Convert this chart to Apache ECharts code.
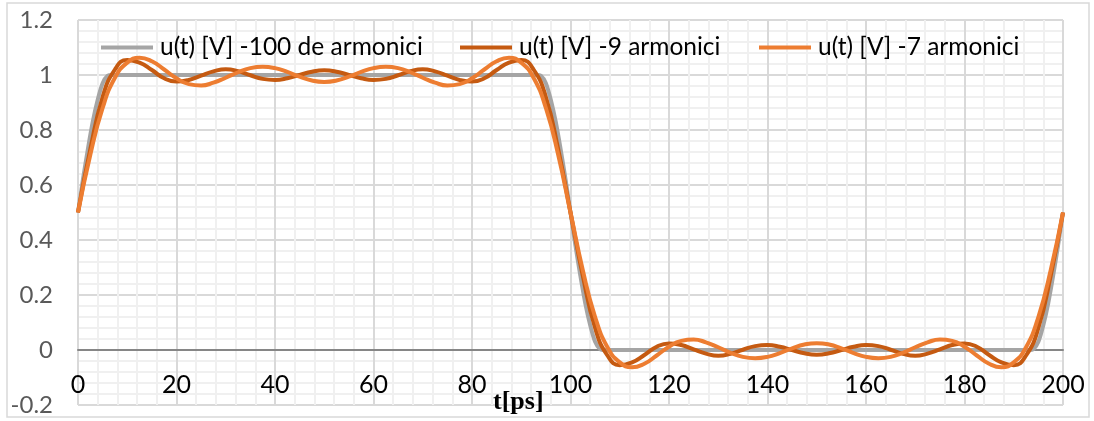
<!DOCTYPE html>
<html>
<head>
<meta charset="utf-8">
<script src="https://cdn.jsdelivr.net/npm/echarts@6/dist/echarts.min.js"></script>
<style>
  html, body { margin: 0; padding: 0; background: #fff; }
  #chart { width: 1094px; height: 421px; }
</style>
</head>
<body>
<div id="chart"></div>
<script>
// time samples [ps] for the 9 and 7 harmonic curves
var tPs = [0, 2.5, 5, 7.5, 10, 12.5, 15, 17.5, 20, 22.5, 25, 27.5, 30, 32.5, 35, 37.5, 40, 42.5, 45, 47.5,
  50, 52.5, 55, 57.5, 60, 62.5, 65, 67.5, 70, 72.5, 75, 77.5, 80, 82.5, 85, 87.5, 90, 92.5, 95, 97.5,
  100, 102.5, 105, 107.5, 110, 112.5, 115, 117.5, 120, 122.5, 125, 127.5, 130, 132.5, 135, 137.5, 140, 142.5, 145, 147.5,
  150, 152.5, 155, 157.5, 160, 162.5, 165, 167.5, 170, 172.5, 175, 177.5, 180, 182.5, 185, 187.5, 190, 192.5, 195, 197.5, 200];

// u(t) [V] - 9 armonici
var u9 = [0.5, 0.73, 0.92, 1.02, 1.055, 1.045, 1.018, 0.988, 0.976, 0.982, 0.998, 1.013, 1.021, 1.014, 0.999, 0.986, 0.982, 0.988, 1.0, 1.012,
  1.017, 1.012, 1.0, 0.988, 0.982, 0.986, 0.999, 1.014, 1.021, 1.013, 0.998, 0.982, 0.976, 0.988, 1.018, 1.045, 1.055, 1.02, 0.92, 0.73,
  0.5, 0.27, 0.08, -0.02, -0.055, -0.045, -0.018, 0.012, 0.024, 0.018, 0.002, -0.013, -0.021, -0.014, 0.001, 0.014, 0.018, 0.012, 0.0, -0.012,
  -0.017, -0.012, 0.0, 0.012, 0.018, 0.014, 0.001, -0.014, -0.021, -0.013, 0.002, 0.018, 0.024, 0.012, -0.018, -0.045, -0.055, -0.02, 0.08, 0.27, 0.5];

// u(t) [V] - 7 armonici
var u7 = [0.5, 0.71, 0.88, 0.99, 1.045, 1.063, 1.05, 1.02, 0.988, 0.967, 0.962, 0.972, 0.99, 1.01, 1.025, 1.03, 1.025, 1.011, 0.994, 0.98,
  0.975, 0.98, 0.994, 1.011, 1.025, 1.03, 1.025, 1.01, 0.99, 0.972, 0.962, 0.967, 0.988, 1.02, 1.05, 1.063, 1.045, 0.99, 0.88, 0.71,
  0.5, 0.29, 0.12, 0.01, -0.045, -0.063, -0.05, -0.02, 0.012, 0.033, 0.038, 0.028, 0.01, -0.01, -0.025, -0.03, -0.025, -0.011, 0.006, 0.02,
  0.025, 0.02, 0.006, -0.011, -0.025, -0.03, -0.025, -0.01, 0.01, 0.028, 0.038, 0.033, 0.012, -0.02, -0.05, -0.063, -0.045, 0.01, 0.12, 0.29, 0.5];

// u(t) [V] - 100 de armonici (almost square)
var tGrey = [0, 1, 2, 3, 4, 5, 6, 7, 93, 94, 95, 96, 97, 98, 99, 100,
  101, 102, 103, 104, 105, 106, 107, 193, 194, 195, 196, 197, 198, 199, 200];
var u100 = [0.5, 0.62, 0.73, 0.83, 0.91, 0.97, 0.997, 1, 1, 0.997, 0.97, 0.91, 0.83, 0.73, 0.62, 0.5,
  0.38, 0.27, 0.17, 0.09, 0.03, 0.003, 0, 0, 0.003, 0.03, 0.09, 0.17, 0.27, 0.38, 0.5];

var names = ['u(t) [V] -100 de armonici', 'u(t) [V] -9 armonici', 'u(t) [V] -7 armonici'];
var colors = ['#A5A5A5', '#C55A11', '#ED7D31'];

function pairs(xs, ys) {
  return xs.map(function (x, i) { return [x, ys[i]]; });
}

var myChart = echarts.init(document.getElementById('chart'));

var font = 'Lato, "Open Sans", sans-serif';

// one legend per item so each icon sits where it does in the picture
function legendAt(i, left) {
  return {
    data: [names[i]],
    left: left,
    top: 30,
    icon: 'rect',
    itemWidth: 52,
    itemHeight: 4,
    textStyle: { fontFamily: font, fontSize: 24.5, color: '#000', padding: [0, 0, 0, 2] }
  };
}

var option = {
  animation: false,
  backgroundColor: '#fff',
  color: colors,
  grid: { left: 78, right: 31, top: 20, bottom: 16, outerBoundsMode: 'none', containLabel: false },
  legend: [legendAt(0, 96), legendAt(1, 455), legendAt(2, 754)],
  xAxis: {
    type: 'value',
    min: 0,
    max: 200,
    interval: 20,
    axisLine: { onZero: true, lineStyle: { color: '#868686', width: 2 } },
    axisTick: { show: false },
    axisLabel: { margin: -33, fontFamily: font, fontSize: 25, color: '#000' },
    splitLine: { show: true, lineStyle: { color: '#d9d9d9', width: 2 } },
    minorTick: { show: false, splitNumber: 5 },
    minorSplitLine: { show: true, lineStyle: { color: '#f0f0f0', width: 2 } }
  },
  yAxis: {
    type: 'value',
    min: -0.2,
    max: 1.2,
    interval: 0.2,
    axisLine: { show: false },
    axisTick: { show: false },
    axisLabel: { margin: 25, fontFamily: font, fontSize: 24, color: '#595959' },
    splitLine: { show: true, lineStyle: { color: '#d9d9d9', width: 2 } },
    minorTick: { show: false, splitNumber: 5 },
    minorSplitLine: { show: true, lineStyle: { color: '#f0f0f0', width: 2 } }
  },
  graphic: [
    {
      type: 'rect',
      shape: { x: 7, y: 3, width: 1082, height: 414 },
      style: { fill: 'none', stroke: '#d9d9d9', lineWidth: 1.5 },
      silent: true
    },
    {
      type: 'text',
      x: 493,
      y: 389,
      z: 100,
      style: { text: 't[ps]', font: 'bold 26px "Liberation Serif", serif', fill: '#000', verticalAlign: 'top' }
    }
  ],
  series: [
    {
      name: names[0],
      type: 'line',
      data: pairs(tGrey, u100),
      showSymbol: false,
      smooth: 0.2,
      lineStyle: { width: 4, color: colors[0] }
    },
    {
      name: names[1],
      type: 'line',
      data: pairs(tPs, u9),
      showSymbol: false,
      smooth: true,
      lineStyle: { width: 4, color: colors[1] }
    },
    {
      name: names[2],
      type: 'line',
      data: pairs(tPs, u7),
      showSymbol: false,
      smooth: true,
      lineStyle: { width: 4, color: colors[2] }
    }
  ]
};

myChart.setOption(option);
</script>
</body>
</html>
